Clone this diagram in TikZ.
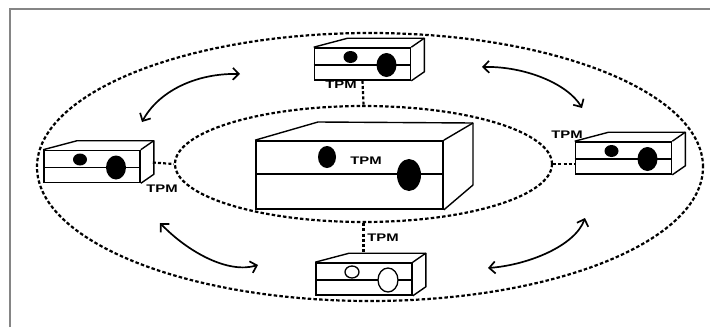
\documentclass[tikz,border=0pt]{standalone}
\usepackage{fontspec}
\usepackage{graphicx}
\usetikzlibrary{shapes.geometric,arrows.meta}
\newfontfamily\tpmfont{Liberation Sans}
\newcommand\tpm{{\tpmfont\bfseries\fontsize{11}{11}\selectfont\scalebox{1.35}[1]{TPM}}}
\tikzset{
  frame/.style={draw=black!48, line width=2.2pt},
  ring/.style={draw, ellipse, inner sep=0pt, line width=2.2pt, dash pattern=on 3.5pt off 2.2pt},
  conn/.style={line width=2.2pt, dash pattern=on 3pt off 2.2pt},
  frontbox/.style={draw, rectangle, inner sep=0pt, line width=1.6pt, minimum width=96pt, minimum height=32pt},
  boxline/.style={line width=1.4pt, line join=round},
  lbl/.style={inner sep=0pt},
  swap/.style={line width=1.7pt, {Straight Barb[length=6pt,width=12pt]}-{Straight Barb[length=6pt,width=12pt]}},
  fulldot/.style={fill=black},
  opendot/.style={draw, fill=white, line width=1.3pt}
}
\newcommand\mybox[3]{%
  \node[frontbox] (#1) at (#2) {};
  \draw[boxline] (#1.north west) -- ++(34,-9) coordinate (#1btl)
     -- ([shift={(13,-9)}]#1.north east) coordinate (#1btr)
     -- ([shift={(13,-9)}]#1.south east) -- (#1.south east);
  \draw[boxline] (#1.north east) -- (#1btr);
  \draw[boxline] ([yshift=-1pt]#1.west) -- ([yshift=-1pt]#1.east);
  \path[#3] ([shift={(-12,-7)}]#1.center) ellipse (7pt and 6pt);
  \path[#3] ([shift={(24,1)}]#1.center) ellipse (10pt and 12pt);
}
\begin{document}
\begin{tikzpicture}[x=1pt,y=-1pt]
\useasboundingbox (0,0) rectangle (710,327);
\fill[white] (0,0) rectangle (710,327);
% frame
\draw[frame] (10,327) -- (10,9) -- (710,9);
% rings
\node[ring, minimum width=666pt, minimum height=268pt] (outer) at (370,167) {};
\node[ring, minimum width=377pt, minimum height=116pt] (inner) at (363.5,164) {};
% central box
\node[draw, rectangle, inner sep=0pt, line width=1.7pt, minimum width=187pt, minimum height=68pt] (server) at (349.5,175) {};
\draw[boxline] (server.north west) -- (318,122) coordinate (sbtl) -- (473,123) coordinate (sbtr) -- (473,185) -- (server.south east);
\draw[boxline] (server.north east) -- (sbtr);
\draw[boxline] (server.west |- 0,174) -- (server.east |- 0,174);
\fill (327,157) ellipse (9pt and 11pt);
\fill (409,175) ellipse (12pt and 16pt);
\node[lbl] (tpmc) at (366,161) {\tpm};
% small boxes
\mybox{tbox}{362.5,64}{fulldot}
\mybox{lbox}{92,166.5}{fulldot}
\mybox{rbox}{623.5,158}{fulldot}
\mybox{bbox}{364,279}{opendot}
% labels
\node[lbl] (tpmt) at (341,85) {\tpm};
\node[lbl] (tpml) at (162,189) {\tpm};
\node[lbl] (tpmr) at (567,135) {\tpm};
\node[lbl] (tpmb) at (383,238) {\tpm};
% dashed links
\draw[conn] (tbox.south) -- (inner.north);
\draw[conn] ([shift={(12,-4)}]lbox.east) -- (inner.west);
\draw[conn] (inner.east) -- (inner.east -| rbox.west);
\draw[conn] (inner.south) -- (inner.south |- bboxbtl);
% curved double arrows
\coordinate (a1s) at (142,122);
\coordinate (a1e) at (240,74);
\coordinate (a2s) at (482,67);
\coordinate (a2e) at (582,108);
\coordinate (a3s) at (160,223);
\coordinate (a3e) at (258,265);
\coordinate (a4s) at (585,218);
\coordinate (a4e) at (488,268);
\draw[swap] (a1s) .. controls (158,92) and (195,73) .. (a1e);
\draw[swap] (a2s) .. controls (525,66) and (568,84) .. (a2e);
\draw[swap] (a3s) .. controls (188,252) and (228,274) .. (a3e);
\draw[swap] (a4s) .. controls (575,246) and (528,265) .. (a4e);
\end{tikzpicture}
\end{document}
